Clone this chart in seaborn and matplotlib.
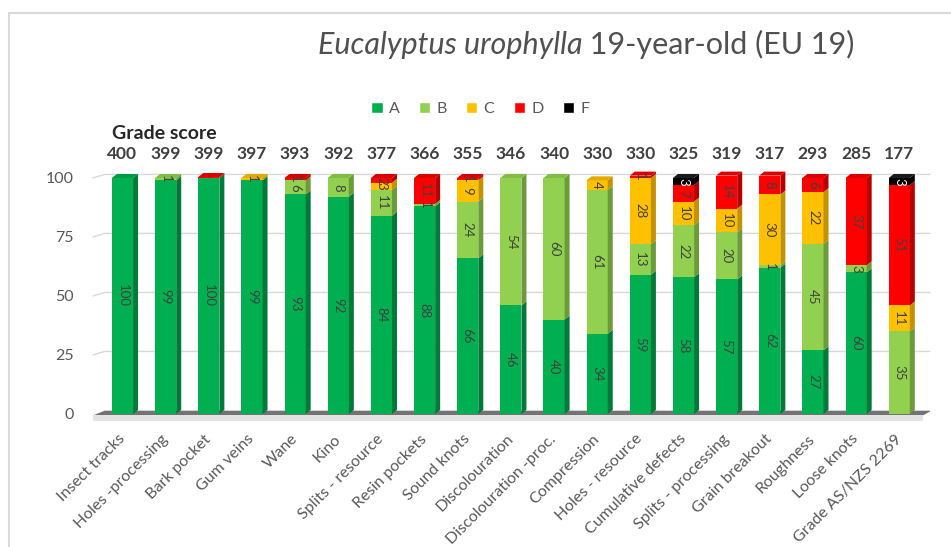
import numpy as np
import pandas as pd
import matplotlib
matplotlib.use("Agg")
import matplotlib.pyplot as plt
import seaborn as sns
from matplotlib.patches import Polygon, Patch
from matplotlib.lines import Line2D

# Data (percent of boards in each grade)
categories = ["Insect tracks", "Holes -processing", "Bark pocket", "Gum veins", "Wane", "Kino",
              "Splits - resource", "Resin pockets", "Sound knots", "Discolouration",
              "Discolouration -proc.", "Compression", "Holes - resource", "Cumulative defects",
              "Splits - processing", "Grain breakout", "Roughness", "Loose knots", "Grade AS/NZS 2269"]
scores = [400, 399, 399, 397, 393, 392, 377, 366, 355, 346, 340, 330, 330, 325, 319, 317, 293, 285, 177]
grade_a = [100, 99, 100, 99, 93, 92, 84, 88, 66, 46, 40, 34, 59, 58, 57, 62, 27, 60, 0]
grade_b = [0, 1, 0, 0, 6, 8, 11, 1, 24, 54, 60, 61, 13, 22, 20, 1, 45, 3, 35]
grade_c = [0, 0, 0, 1, 0, 0, 3, 0, 9, 0, 0, 4, 28, 10, 10, 30, 22, 0, 11]
grade_d = [0, 0, 0.4, 0, 1, 0, 2, 11, 1, 0, 0, 0, 1, 7, 14, 8, 6, 37, 51]
grade_f = [0, 0, 0, 0, 0, 0, 0, 0, 0, 0, 0, 0, 0, 3, 0, 0, 0, 0, 3]
yticks = [0, 25, 50, 75, 100]

grades = ["A", "B", "C", "D", "F"]
front_colors = {"A": "#00B050", "B": "#92D050", "C": "#FFC000", "D": "#FF0000", "F": "#000000"}
side_colors = {"A": "#007A38", "B": "#6C9C3A", "C": "#C29200", "D": "#B80000", "F": "#000000"}
top_colors = {"A": "#009A45", "B": "#80BC46", "C": "#E3AA00", "D": "#DA0000", "F": "#1A1A1A"}

sns.set_theme(style="white")
plt.rcParams["font.family"] = ["Lato", "DejaVu Sans"]

df = pd.DataFrame({"Defect": categories, "A": grade_a, "B": grade_b, "C": grade_c,
                   "D": grade_d, "F": grade_f})
cum = df[grades].cumsum(axis=1)
n = len(categories)

fig = plt.figure(figsize=(9.51, 5.47), dpi=100)
ax = fig.add_axes([0.0978, 0.2216, 0.880, 0.4746])

# stacked bars: draw cumulative totals, tallest first
bar_w = 0.49
for g in reversed(grades):
    sns.barplot(x=categories, y=cum[g].values, color=front_colors[g], width=bar_w,
                saturation=1, errorbar=None, linewidth=0, ax=ax, zorder=3)

bars = ax.containers[0]
centers = np.array([p.get_x() + p.get_width() / 2 for p in bars])
half = bars[0].get_width() / 2

# fake 3D: side and top faces
dx, dy = 0.116, 1.7
for g in grades:
    vals = df[g].values
    tops = cum[g].values
    bots = tops - vals
    for i in range(n):
        if vals[i] <= 0:
            continue
        xr = centers[i] + half
        ax.add_patch(Polygon([(xr, bots[i]), (xr + dx, bots[i] + dy), (xr + dx, tops[i] + dy),
                              (xr, tops[i])], closed=True, fc=side_colors[g], ec="none", zorder=3))
        if vals[i] >= 1:
            ax.text(centers[i], bots[i] + vals[i] / 2, f"{vals[i]:.0f}", rotation=270,
                    ha="center", va="center", fontsize=9.5,
                    color="white" if g == "F" else "#404040", zorder=5)

totals = cum["F"].values
for i in range(n):
    top_g = [g for g in grades if df[g].values[i] > 0][-1]
    xl, xr, t = centers[i] - half, centers[i] + half, totals[i]
    ax.add_patch(Polygon([(xl, t), (xr, t), (xr + dx, t + dy), (xl + dx, t + dy)],
                         closed=True, fc=top_colors[top_g], ec="none", zorder=4))

x_lo, x_hi = -0.683, 18.71
ax.set_xlim(x_lo, x_hi)
ax.set_ylim(-5, 105)

# gridlines with a little perspective on the left wall
for v in yticks[1:]:
    ax.plot([x_lo, x_lo + 0.27, x_hi], [v, v + 1.5, v + 1.5], color="#d9d9d9", lw=1, zorder=1,
            clip_on=False)

# floor
ax.add_patch(Polygon([(x_lo, -0.6), (18.55, -0.6), (18.75, 1.4), (x_lo + 0.27, 1.4)],
                     closed=True, fc="#737373", ec="none", zorder=2))
ax.add_patch(Polygon([(x_lo, -0.6), (18.55, -0.6), (18.55, -2.8), (x_lo, -2.8)],
                     closed=True, fc="#e3e3e3", ec="none", zorder=2))

# grade scores above bars
ax.text(centers[0] - half, 119, "Grade score", ha="left", va="center", fontsize=14,
        fontweight="bold", color="#262626", clip_on=False)
for i in range(n):
    ax.text(centers[i], 110, str(scores[i]), ha="center", va="center", fontsize=12.5,
            fontweight="bold", color="#404040", clip_on=False)

ax.set_xticks(centers)
ax.set_xticklabels(categories, rotation=45, ha="right", va="center", rotation_mode="anchor",
                   fontsize=11.5, color="#595959")
ax.set_yticks(yticks)
ax.set_yticklabels([str(v) for v in yticks], fontsize=11.5, color="#595959")
ax.tick_params(axis="x", length=0, pad=8)
ax.tick_params(axis="y", length=0, pad=14)
ax.set_xlabel("")
ax.set_ylabel("")
for s in ax.spines.values():
    s.set_visible(False)
ax.grid(False)

# title: italic species name followed by upright text
t1 = fig.text(0.334, 0.918, "Eucalyptus urophylla", style="italic", fontsize=22,
              color="#505050", ha="left", va="center")
ax.annotate(" 19-year-old (EU 19)", xy=(1, 0), xycoords=t1, ha="left", va="bottom",
            fontsize=22, color="#505050", annotation_clip=False)

fig.legend(handles=[Patch(fc=front_colors[g], label=g) for g in grades], loc="center",
           bbox_to_anchor=(0.505, 0.80), ncol=5, frameon=False, handlelength=0.7,
           handleheight=0.7, handletextpad=0.4, columnspacing=1.2, fontsize=11.5,
           labelcolor="#595959")

# chart border (left and top edges visible)
fig.add_artist(Line2D([8.5 / 951, 8.5 / 951], [0, 1 - 12.5 / 547], transform=fig.transFigure,
                      color="#d9d9d9", lw=1.5))
fig.add_artist(Line2D([8.5 / 951, 1], [1 - 12.5 / 547, 1 - 12.5 / 547], transform=fig.transFigure,
                      color="#d9d9d9", lw=1.5))

fig.savefig("out.png", dpi=100)
